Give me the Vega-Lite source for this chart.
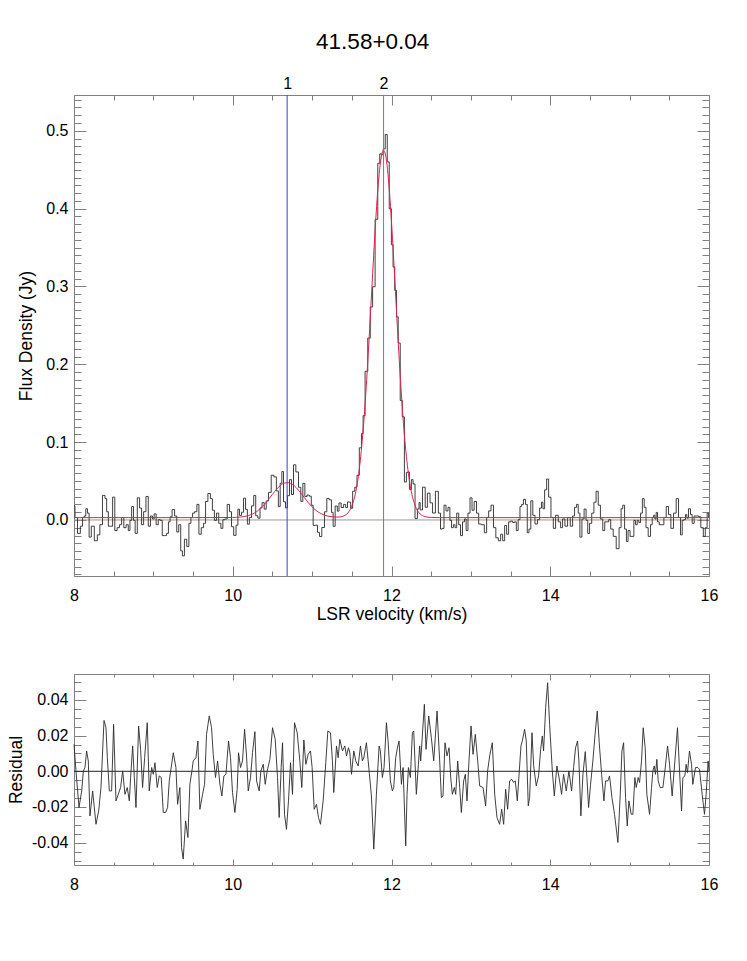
{
"$schema": "https://vega.github.io/schema/vega-lite/v6.json",
"background": "white",
"padding": {"left": 7, "top": 30, "right": 5, "bottom": 5},
"autosize": {"type": "pad"},
"title": {"text": "41.58+0.04", "fontSize": 22.5, "fontWeight": "normal", "font": "Liberation Sans", "color": "#000", "anchor": "middle", "offset": 21.5, "dx": 10},
"spacing": 98,
"bounds": "flush",
"datasets": {
"spec": [
{"v":8.000,"s":0.0181,"r":0.0151},{"v":8.025,"s":0.0032,"r":0.0002},{"v":8.063,"s":-0.0173,"r":-0.0203},{"v":8.097,"s":-0.0080,"r":-0.0110},{"v":8.118,"s":0.0032,"r":0.0002},{"v":8.138,"s":0.0051,"r":0.0021},{"v":8.159,"s":0.0144,"r":0.0114},{"v":8.180,"s":0.0088,"r":0.0058},{"v":8.201,"s":-0.0220,"r":-0.0250},{"v":8.235,"s":-0.0080,"r":-0.0110},
{"v":8.277,"s":-0.0267,"r":-0.0297},{"v":8.311,"s":-0.0192,"r":-0.0222},{"v":8.340,"s":-0.0061,"r":-0.0091},{"v":8.378,"s":0.0315,"r":0.0285},{"v":8.403,"s":0.0274,"r":0.0244},{"v":8.420,"s":0.0106,"r":0.0076},{"v":8.445,"s":-0.0080,"r":-0.0110},{"v":8.474,"s":-0.0080,"r":-0.0110},{"v":8.499,"s":0.0293,"r":0.0263},{"v":8.529,"s":-0.0136,"r":-0.0166},
{"v":8.558,"s":-0.0099,"r":-0.0129},{"v":8.587,"s":-0.0061,"r":-0.0091},{"v":8.613,"s":0.0032,"r":0.0002},{"v":8.642,"s":-0.0099,"r":-0.0129},{"v":8.671,"s":-0.0061,"r":-0.0091},{"v":8.697,"s":-0.0136,"r":-0.0166},{"v":8.713,"s":-0.0005,"r":-0.0035},{"v":8.739,"s":0.0172,"r":0.0142},{"v":8.760,"s":-0.0005,"r":-0.0035},{"v":8.781,"s":-0.0173,"r":-0.0203},
{"v":8.814,"s":0.0284,"r":0.0254},{"v":8.839,"s":0.0153,"r":0.0123},{"v":8.864,"s":-0.0061,"r":-0.0091},{"v":8.890,"s":0.0106,"r":0.0076},{"v":8.923,"s":0.0302,"r":0.0272},{"v":8.948,"s":-0.0080,"r":-0.0110},{"v":8.978,"s":0.0051,"r":0.0021},{"v":8.999,"s":0.0013,"r":-0.0017},{"v":9.020,"s":0.0078,"r":0.0048},{"v":9.049,"s":-0.0061,"r":-0.0091},
{"v":9.074,"s":0.0004,"r":-0.0026},{"v":9.099,"s":-0.0005,"r":-0.0035},{"v":9.125,"s":-0.0201,"r":-0.0231},{"v":9.154,"s":-0.0201,"r":-0.0231},{"v":9.179,"s":-0.0173,"r":-0.0203},{"v":9.200,"s":-0.0024,"r":-0.0054},{"v":9.221,"s":0.0041,"r":0.0011},{"v":9.251,"s":0.0134,"r":0.0104},{"v":9.284,"s":0.0051,"r":0.0021},{"v":9.305,"s":-0.0155,"r":-0.0185},
{"v":9.334,"s":-0.0061,"r":-0.0091},{"v":9.355,"s":-0.0397,"r":-0.0427},{"v":9.376,"s":-0.0462,"r":-0.0492},{"v":9.406,"s":-0.0248,"r":-0.0278},{"v":9.435,"s":-0.0341,"r":-0.0371},{"v":9.460,"s":-0.0043,"r":-0.0073},{"v":9.486,"s":0.0032,"r":0.0002},{"v":9.502,"s":0.0088,"r":0.0058},{"v":9.536,"s":0.0106,"r":0.0076},{"v":9.561,"s":0.0200,"r":0.0170},
{"v":9.586,"s":-0.0183,"r":-0.0213},{"v":9.620,"s":-0.0099,"r":-0.0129},{"v":9.645,"s":-0.0043,"r":-0.0073},{"v":9.670,"s":0.0237,"r":0.0207},{"v":9.704,"s":0.0340,"r":0.0310},{"v":9.733,"s":0.0274,"r":0.0244},{"v":9.754,"s":0.0125,"r":0.0095},{"v":9.783,"s":-0.0005,"r":-0.0035},{"v":9.809,"s":0.0088,"r":0.0058},{"v":9.838,"s":-0.0043,"r":-0.0073},
{"v":9.863,"s":-0.0108,"r":-0.0138},{"v":9.888,"s":0.0004,"r":-0.0026},{"v":9.914,"s":0.0013,"r":-0.0017},{"v":9.947,"s":0.0200,"r":0.0170},{"v":9.972,"s":0.0106,"r":0.0076},{"v":9.997,"s":-0.0087,"r":-0.0119},
{"v":10.027,"s":-0.0198,"r":-0.0231},{"v":10.056,"s":-0.0067,"r":-0.0101},{"v":10.073,"s":0.0139,"r":0.0104},{"v":10.098,"s":0.0059,"r":0.0021},{"v":10.123,"s":0.0099,"r":0.0058},{"v":10.149,"s":0.0280,"r":0.0235},{"v":10.174,"s":0.0136,"r":0.0086},{"v":10.195,"s":-0.0054,"r":-0.0110},{"v":10.224,"s":0.0031,"r":-0.0035},{"v":10.249,"s":0.0181,"r":0.0104},
{"v":10.279,"s":0.0315,"r":0.0222},{"v":10.300,"s":0.0053,"r":-0.0054},{"v":10.333,"s":0.0023,"r":-0.0110},{"v":10.354,"s":0.0154,"r":0.0002},{"v":10.384,"s":0.0222,"r":0.0039},{"v":10.409,"s":0.0139,"r":-0.0073},{"v":10.434,"s":0.0245,"r":0.0002},{"v":10.468,"s":0.0354,"r":0.0067},{"v":10.501,"s":0.0575,"r":0.0244},{"v":10.535,"s":0.0553,"r":0.0179},
{"v":10.564,"s":0.0373,"r":-0.0035},{"v":10.585,"s":0.0171,"r":-0.0259},{"v":10.610,"s":0.0472,"r":0.0021},{"v":10.627,"s":0.0622,"r":0.0160},{"v":10.652,"s":0.0233,"r":-0.0241},{"v":10.677,"s":0.0155,"r":-0.0325},{"v":10.702,"s":0.0312,"r":-0.0166},{"v":10.728,"s":0.0518,"r":0.0048},{"v":10.753,"s":0.0327,"r":-0.0129},{"v":10.778,"s":0.0708,"r":0.0272},
{"v":10.812,"s":0.0617,"r":0.0216},{"v":10.845,"s":0.0420,"r":0.0058},{"v":10.870,"s":0.0238,"r":-0.0091},{"v":10.896,"s":0.0470,"r":0.0175},{"v":10.921,"s":0.0301,"r":0.0039},{"v":10.950,"s":0.0320,"r":0.0095},{"v":10.979,"s":0.0305,"r":0.0114},{"v":11.000,"s":0.0189,"r":0.0021},{"v":11.026,"s":-0.0070,"r":-0.0213},{"v":11.055,"s":-0.0067,"r":-0.0185},
{"v":11.080,"s":-0.0159,"r":-0.0259},{"v":11.105,"s":-0.0212,"r":-0.0297},{"v":11.139,"s":-0.0097,"r":-0.0166},{"v":11.172,"s":0.0105,"r":0.0048},{"v":11.198,"s":0.0276,"r":0.0226},{"v":11.231,"s":0.0259,"r":0.0216},{"v":11.256,"s":0.0098,"r":0.0058},{"v":11.273,"s":-0.0081,"r":-0.0119},{"v":11.307,"s":0.0179,"r":0.0142},{"v":11.328,"s":0.0113,"r":0.0076},
{"v":11.349,"s":0.0218,"r":0.0179},{"v":11.382,"s":0.0160,"r":0.0114},{"v":11.412,"s":0.0200,"r":0.0142},{"v":11.433,"s":0.0159,"r":0.0086},{"v":11.458,"s":0.0231,"r":0.0132},{"v":11.475,"s":0.0229,"r":0.0104},{"v":11.496,"s":0.0151,"r":-0.0017},{"v":11.525,"s":0.0369,"r":0.0114},{"v":11.550,"s":0.0421,"r":0.0058},{"v":11.580,"s":0.0574,"r":0.0030},
{"v":11.609,"s":0.0927,"r":0.0142},{"v":11.634,"s":0.1109,"r":0.0058},{"v":11.651,"s":0.1340,"r":0.0076},{"v":11.684,"s":0.1910,"r":0.0160},{"v":11.718,"s":0.2337,"r":0.0002},{"v":11.747,"s":0.2736,"r":-0.0138},{"v":11.777,"s":0.2996,"r":-0.0436},{"v":11.810,"s":0.3862,"r":-0.0129},{"v":11.844,"s":0.4582,"r":0.0142},{"v":11.860,"s":0.4704,"r":0.0114},
{"v":11.885,"s":0.4692,"r":-0.0035},{"v":11.906,"s":0.4767,"r":0.0021},{"v":11.936,"s":0.4952,"r":0.0272},{"v":11.957,"s":0.4600,"r":0.0170},{"v":11.986,"s":0.3998,"r":-0.0054},{"v":12.011,"s":0.3536,"r":-0.0110},{"v":12.028,"s":0.3250,"r":-0.0091},{"v":12.053,"s":0.2950,"r":0.0076},{"v":12.074,"s":0.2610,"r":0.0129},{"v":12.095,"s":0.2273,"r":0.0170},
{"v":12.125,"s":0.1535,"r":-0.0073},{"v":12.146,"s":0.1325,"r":0.0021},{"v":12.179,"s":0.0488,"r":-0.0418},{"v":12.196,"s":0.0610,"r":-0.0129},{"v":12.213,"s":0.0617,"r":0.0021},{"v":12.238,"s":0.0393,"r":-0.0035},{"v":12.263,"s":0.0518,"r":0.0216},{"v":12.280,"s":0.0463,"r":0.0226},{"v":12.313,"s":0.0019,"r":-0.0129},{"v":12.339,"s":0.0142,"r":0.0039},
{"v":12.355,"s":0.0225,"r":0.0142},{"v":12.368,"s":0.0129,"r":0.0058},{"v":12.414,"s":0.0421,"r":0.0375},{"v":12.435,"s":0.0163,"r":0.0123},{"v":12.469,"s":0.0344,"r":0.0310},{"v":12.502,"s":0.0220,"r":0.0188},{"v":12.532,"s":0.0089,"r":0.0058},{"v":12.574,"s":0.0368,"r":0.0338},
{"v":12.607,"s":0.0088,"r":0.0058},{"v":12.628,"s":-0.0117,"r":-0.0147},{"v":12.649,"s":-0.0108,"r":-0.0138},{"v":12.674,"s":0.0190,"r":0.0160},{"v":12.699,"s":0.0116,"r":0.0086},{"v":12.725,"s":0.0162,"r":0.0132},{"v":12.746,"s":-0.0005,"r":-0.0035},{"v":12.767,"s":-0.0099,"r":-0.0129},{"v":12.792,"s":-0.0061,"r":-0.0091},{"v":12.809,"s":-0.0099,"r":-0.0129},
{"v":12.834,"s":0.0088,"r":0.0058},{"v":12.859,"s":-0.0061,"r":-0.0091},{"v":12.880,"s":-0.0201,"r":-0.0231},{"v":12.909,"s":-0.0024,"r":-0.0054},{"v":12.930,"s":0.0013,"r":-0.0017},{"v":12.951,"s":-0.0136,"r":-0.0166},{"v":12.976,"s":0.0088,"r":0.0058},{"v":13.002,"s":0.0284,"r":0.0254},{"v":13.027,"s":0.0125,"r":0.0095},{"v":13.056,"s":0.0237,"r":0.0207},
{"v":13.086,"s":0.0088,"r":0.0058},{"v":13.111,"s":-0.0052,"r":-0.0082},{"v":13.153,"s":-0.0061,"r":-0.0091},{"v":13.186,"s":-0.0164,"r":-0.0194},{"v":13.211,"s":0.0032,"r":0.0002},{"v":13.237,"s":0.0116,"r":0.0086},{"v":13.270,"s":0.0190,"r":0.0160},{"v":13.300,"s":-0.0099,"r":-0.0129},{"v":13.329,"s":-0.0229,"r":-0.0259},{"v":13.362,"s":-0.0267,"r":-0.0297},
{"v":13.388,"s":-0.0183,"r":-0.0213},{"v":13.413,"s":-0.0267,"r":-0.0297},{"v":13.438,"s":-0.0071,"r":-0.0101},{"v":13.463,"s":-0.0183,"r":-0.0213},{"v":13.488,"s":-0.0024,"r":-0.0054},{"v":13.514,"s":-0.0015,"r":-0.0045},{"v":13.539,"s":-0.0033,"r":-0.0063},{"v":13.560,"s":-0.0024,"r":-0.0054},{"v":13.585,"s":-0.0136,"r":-0.0166},{"v":13.606,"s":0.0004,"r":-0.0026},
{"v":13.631,"s":0.0172,"r":0.0142},{"v":13.648,"s":0.0200,"r":0.0170},{"v":13.677,"s":0.0265,"r":0.0235},{"v":13.698,"s":0.0200,"r":0.0170},{"v":13.723,"s":-0.0164,"r":-0.0194},{"v":13.740,"s":-0.0117,"r":-0.0147},{"v":13.770,"s":0.0246,"r":0.0216},{"v":13.791,"s":0.0060,"r":0.0030},{"v":13.824,"s":-0.0052,"r":-0.0082},{"v":13.853,"s":0.0004,"r":-0.0026},
{"v":13.879,"s":0.0153,"r":0.0123},{"v":13.900,"s":0.0228,"r":0.0198},{"v":13.916,"s":0.0144,"r":0.0114},{"v":13.942,"s":0.0386,"r":0.0356},{"v":13.967,"s":0.0526,"r":0.0496},{"v":13.992,"s":0.0293,"r":0.0263},{"v":14.026,"s":0.0032,"r":0.0002},{"v":14.051,"s":-0.0108,"r":-0.0138},{"v":14.084,"s":0.0060,"r":0.0030},{"v":14.118,"s":-0.0024,"r":-0.0054},
{"v":14.143,"s":-0.0099,"r":-0.0129},{"v":14.168,"s":0.0013,"r":-0.0017},{"v":14.202,"s":-0.0080,"r":-0.0110},{"v":14.235,"s":0.0032,"r":0.0002},{"v":14.269,"s":-0.0080,"r":-0.0110},{"v":14.294,"s":0.0051,"r":0.0021},{"v":14.319,"s":0.0162,"r":0.0132},{"v":14.344,"s":0.0200,"r":0.0170},{"v":14.361,"s":0.0088,"r":0.0058},{"v":14.386,"s":-0.0220,"r":-0.0250},
{"v":14.412,"s":0.0013,"r":-0.0017},{"v":14.441,"s":0.0140,"r":0.0110},{"v":14.462,"s":-0.0005,"r":-0.0035},{"v":14.483,"s":-0.0173,"r":-0.0203},{"v":14.508,"s":-0.0043,"r":-0.0073},{"v":14.537,"s":0.0088,"r":0.0058},{"v":14.563,"s":0.0228,"r":0.0198},{"v":14.592,"s":0.0368,"r":0.0338},{"v":14.617,"s":0.0190,"r":0.0160},{"v":14.647,"s":0.0013,"r":-0.0017},
{"v":14.676,"s":-0.0136,"r":-0.0166},{"v":14.697,"s":-0.0024,"r":-0.0054},{"v":14.726,"s":-0.0024,"r":-0.0054},{"v":14.747,"s":0.0004,"r":-0.0026},{"v":14.777,"s":-0.0117,"r":-0.0147},{"v":14.810,"s":-0.0211,"r":-0.0241},{"v":14.852,"s":-0.0369,"r":-0.0399},{"v":14.882,"s":-0.0099,"r":-0.0129},{"v":14.903,"s":0.0144,"r":0.0114},{"v":14.924,"s":0.0190,"r":0.0160},
{"v":14.949,"s":-0.0117,"r":-0.0147},{"v":14.970,"s":-0.0276,"r":-0.0306},{"v":14.991,"s":-0.0136,"r":-0.0166},{"v":15.020,"s":-0.0211,"r":-0.0241},{"v":15.041,"s":-0.0211,"r":-0.0241},{"v":15.066,"s":-0.0005,"r":-0.0035},{"v":15.083,"s":-0.0061,"r":-0.0091},{"v":15.108,"s":-0.0005,"r":-0.0035},{"v":15.125,"s":-0.0033,"r":-0.0063},{"v":15.150,"s":0.0088,"r":0.0058},
{"v":15.171,"s":0.0274,"r":0.0244},{"v":15.196,"s":0.0162,"r":0.0132},{"v":15.217,"s":-0.0099,"r":-0.0129},{"v":15.251,"s":-0.0211,"r":-0.0241},{"v":15.276,"s":-0.0061,"r":-0.0091},{"v":15.293,"s":0.0032,"r":0.0002},{"v":15.310,"s":0.0060,"r":0.0030},{"v":15.326,"s":0.0013,"r":-0.0017},{"v":15.343,"s":0.0097,"r":0.0067},{"v":15.360,"s":-0.0024,"r":-0.0054},
{"v":15.385,"s":-0.0061,"r":-0.0091},{"v":15.419,"s":-0.0061,"r":-0.0091},{"v":15.444,"s":0.0032,"r":0.0002},{"v":15.478,"s":0.0172,"r":0.0142},{"v":15.503,"s":0.0069,"r":0.0039},{"v":15.536,"s":-0.0108,"r":-0.0138},{"v":15.570,"s":0.0088,"r":0.0058},{"v":15.603,"s":0.0274,"r":0.0244},{"v":15.629,"s":0.0032,"r":0.0002},{"v":15.654,"s":-0.0192,"r":-0.0222},
{"v":15.671,"s":-0.0005,"r":-0.0035},{"v":15.696,"s":0.0004,"r":-0.0026},{"v":15.712,"s":0.0069,"r":0.0039},{"v":15.729,"s":0.0023,"r":-0.0007},{"v":15.754,"s":0.0144,"r":0.0114},{"v":15.780,"s":0.0069,"r":0.0039},{"v":15.796,"s":-0.0043,"r":-0.0073},{"v":15.830,"s":0.0051,"r":0.0021},{"v":15.859,"s":0.0051,"r":0.0021},{"v":15.880,"s":0.0041,"r":0.0011},
{"v":15.914,"s":-0.0099,"r":-0.0129},{"v":15.943,"s":-0.0211,"r":-0.0241},{"v":15.964,"s":-0.0099,"r":-0.0129},{"v":15.989,"s":0.0088,"r":0.0058},{"v":16.000,"s":0.0032,"r":0.0002}
],
"fit": [
{"v":8.0,"f":0.003},{"v":9.5,"f":0.003},{"v":9.8,"f":0.0031},{"v":10.0,"f":0.0032},{"v":10.1,"f":0.0038},{"v":10.2,"f":0.0057},{"v":10.3,"f":0.0107},{"v":10.4,"f":0.0201},{"v":10.5,"f":0.0330},{"v":10.55,"f":0.0392},{"v":10.6,"f":0.0443},{"v":10.65,"f":0.0474},{"v":10.7,"f":0.0479},{"v":10.75,"f":0.0458},{"v":10.8,"f":0.0415},{"v":10.85,"f":0.0356},{"v":10.9,"f":0.0290},{"v":10.95,"f":0.0225},{"v":11.0,"f":0.0168},{"v":11.05,"f":0.0122},{"v":11.1,"f":0.0088},{"v":11.15,"f":0.0064},{"v":11.2,"f":0.0049},{"v":11.25,"f":0.0041},{"v":11.3,"f":0.0037},{"v":11.35,"f":0.0039},{"v":11.4,"f":0.0052},{"v":11.45,"f":0.0090},{"v":11.5,"f":0.0178},{"v":11.55,"f":0.0363},{"v":11.6,"f":0.0703},{"v":11.625,"f":0.0949},{"v":11.65,"f":0.1251},{"v":11.675,"f":0.1608},{"v":11.7,"f":0.2016},{"v":11.725,"f":0.2463},{"v":11.75,"f":0.2930},{"v":11.775,"f":0.3396},{"v":11.8,"f":0.3831},{"v":11.825,"f":0.4209},{"v":11.85,"f":0.4501},{"v":11.875,"f":0.4687},{"v":11.9,"f":0.4750},{"v":11.925,"f":0.4687},{"v":11.95,"f":0.4501},{"v":11.975,"f":0.4209},{"v":12.0,"f":0.3831},{"v":12.025,"f":0.3396},{"v":12.05,"f":0.2930},{"v":12.075,"f":0.2463},{"v":12.1,"f":0.2016},{"v":12.125,"f":0.1608},{"v":12.15,"f":0.1251},{"v":12.175,"f":0.0949},{"v":12.2,"f":0.0703},{"v":12.25,"f":0.0363},{"v":12.3,"f":0.0178},{"v":12.35,"f":0.0089},{"v":12.4,"f":0.0051},{"v":12.45,"f":0.0037},{"v":12.5,"f":0.0032},{"v":12.6,"f":0.003},{"v":16.0,"f":0.003}
],
"marks": [{"v":10.685,"n":"1"},{"v":11.9,"n":"2"}],
"zero": [{"z":0}]
},
"vconcat": [
{
"width": 635, "height": 481,
"resolve": {"axis": {"x": "independent", "y": "independent"}},
"layer": [
{"data": {"name": "zero"}, "mark": {"type": "rule", "color": "#999999", "strokeWidth": 1},
 "encoding": {"y": {"field": "z", "type": "quantitative", "scale": {"domain": [-0.072, 0.546], "nice": false, "zero": false},
   "axis": {"orient": "left", "title": "Flux Density (Jy)", "titlePadding": 10, "labelPadding": 18,
     "values": [-0.07,-0.06,-0.05,-0.04,-0.03,-0.02,-0.01,0,0.01,0.02,0.03,0.04,0.05,0.06,0.07,0.08,0.09,0.1,0.11,0.12,0.13,0.14,0.15,0.16,0.17,0.18,0.19,0.2,0.21,0.22,0.23,0.24,0.25,0.26,0.27,0.28,0.29,0.3,0.31,0.32,0.33,0.34,0.35,0.36,0.37,0.38,0.39,0.4,0.41,0.42,0.43,0.44,0.45,0.46,0.47,0.48,0.49,0.5,0.51,0.52,0.53,0.54],
     "labelExpr": "abs(datum.value*10 - round(datum.value*10)) < 0.001 ? format(datum.value, '.1f') : ''",
     "tickSize": {"condition": {"test": "abs(datum.value*10 - round(datum.value*10)) < 0.001", "value": -12}, "value": -7}}}}},
{"data": {"name": "spec"}, "mark": {"type": "line", "interpolate": "step", "color": "#2a2a2a", "strokeWidth": 0.9},
 "encoding": {"x": {"field": "v", "type": "quantitative", "scale": {"domain": [8, 16], "nice": false, "zero": false},
   "axis": {"orient": "bottom", "title": "LSR velocity (km/s)", "titlePadding": -3, "labelPadding": 21,
     "values": [8,8.5,9,9.5,10,10.5,11,11.5,12,12.5,13,13.5,14,14.5,15,15.5,16],
     "labelExpr": "datum.value % 2 == 0 ? format(datum.value, 'd') : ''",
     "tickSize": {"condition": {"test": "datum.value % 2 == 0", "value": -10}, "value": -5}}},
   "y": {"field": "s", "type": "quantitative", "axis": null}}},
{"data": {"name": "fit"}, "mark": {"type": "line", "interpolate": "monotone", "color": "#e0204f", "strokeWidth": 1},
 "encoding": {"x": {"field": "v", "type": "quantitative",
   "axis": {"orient": "top", "title": null, "labels": false,
     "values": [8,8.5,9,9.5,10,10.5,11,11.5,12,12.5,13,13.5,14,14.5,15,15.5,16],
     "tickSize": {"condition": {"test": "datum.value % 2 == 0", "value": -10}, "value": -5}}},
   "y": {"field": "f", "type": "quantitative",
   "axis": {"orient": "right", "title": null, "labels": false,
     "values": [-0.07,-0.06,-0.05,-0.04,-0.03,-0.02,-0.01,0,0.01,0.02,0.03,0.04,0.05,0.06,0.07,0.08,0.09,0.1,0.11,0.12,0.13,0.14,0.15,0.16,0.17,0.18,0.19,0.2,0.21,0.22,0.23,0.24,0.25,0.26,0.27,0.28,0.29,0.3,0.31,0.32,0.33,0.34,0.35,0.36,0.37,0.38,0.39,0.4,0.41,0.42,0.43,0.44,0.45,0.46,0.47,0.48,0.49,0.5,0.51,0.52,0.53,0.54],
     "tickSize": {"condition": {"test": "abs(datum.value*10 - round(datum.value*10)) < 0.001", "value": -12}, "value": -7}}}}},
{"data": {"name": "marks"}, "mark": {"type": "rule", "strokeWidth": 1},
 "encoding": {"x": {"field": "v", "type": "quantitative",
   "axis": {"orient": "top", "title": null, "ticks": false, "labelPadding": 4, "values": [10.685, 11.9], "labelExpr": "datum.value < 11 ? '1' : '2'"}},
   "color": {"field": "n", "type": "nominal", "scale": {"domain": ["1","2"], "range": ["#3c3cd8", "#6a6aff"]}, "legend": null}}}
]
},
{
"width": 635, "height": 191,
"resolve": {"axis": {"x": "independent", "y": "independent"}},
"layer": [
{"data": {"name": "zero"}, "mark": {"type": "rule", "color": "#222222", "strokeWidth": 1},
 "encoding": {"y": {"field": "z", "type": "quantitative", "scale": {"domain": [-0.0525, 0.0545], "nice": false, "zero": false},
   "axis": {"orient": "left", "title": "Residual", "titlePadding": 6, "labelPadding": 18,
     "values": [-0.05,-0.045,-0.04,-0.035,-0.03,-0.025,-0.02,-0.015,-0.01,-0.005,0,0.005,0.01,0.015,0.02,0.025,0.03,0.035,0.04,0.045,0.05],
     "labelExpr": "abs(datum.value*50 - round(datum.value*50)) < 0.001 ? replace(format(datum.value, '.2f'), '\u2212', '-') : ''",
     "tickSize": {"condition": {"test": "abs(datum.value*50 - round(datum.value*50)) < 0.001", "value": -12}, "value": -7}}}}},
{"data": {"name": "spec"}, "mark": {"type": "line", "color": "#2a2a2a", "strokeWidth": 0.9},
 "encoding": {"x": {"field": "v", "type": "quantitative", "scale": {"domain": [8, 16], "nice": false, "zero": false},
   "axis": {"orient": "bottom", "title": null, "labelPadding": 17,
     "values": [8,8.5,9,9.5,10,10.5,11,11.5,12,12.5,13,13.5,14,14.5,15,15.5,16],
     "labelExpr": "datum.value % 2 == 0 ? format(datum.value, 'd') : ''",
     "tickSize": {"condition": {"test": "datum.value % 2 == 0", "value": -6}, "value": -3}}},
   "y": {"field": "r", "type": "quantitative", "axis": null}}},
{"data": {"name": "spec"}, "mark": {"type": "line", "opacity": 0},
 "encoding": {"x": {"field": "v", "type": "quantitative",
   "axis": {"orient": "top", "title": null, "labels": false,
     "values": [8,8.5,9,9.5,10,10.5,11,11.5,12,12.5,13,13.5,14,14.5,15,15.5,16],
     "tickSize": {"condition": {"test": "datum.value % 2 == 0", "value": -6}, "value": -3}}},
   "y": {"field": "r", "type": "quantitative",
   "axis": {"orient": "right", "title": null, "labels": false,
     "values": [-0.05,-0.045,-0.04,-0.035,-0.03,-0.025,-0.02,-0.015,-0.01,-0.005,0,0.005,0.01,0.015,0.02,0.025,0.03,0.035,0.04,0.045,0.05],
     "tickSize": {"condition": {"test": "abs(datum.value*50 - round(datum.value*50)) < 0.001", "value": -12}, "value": -7}}}}}
]
}
],
"config": {
"view": {"stroke": "#808080", "strokeWidth": 1},
"axis": {"grid": false, "domain": false, "tickColor": "#808080", "tickWidth": 1, "labelFont": "Liberation Sans", "titleFont": "Liberation Sans", "labelColor": "#000000", "titleColor": "#000000", "titleFontWeight": "normal", "labelFontSize": 16, "titleFontSize": 17.5, "labelOverlap": false, "labelFlush": false, "labelBound": false}
}
}
